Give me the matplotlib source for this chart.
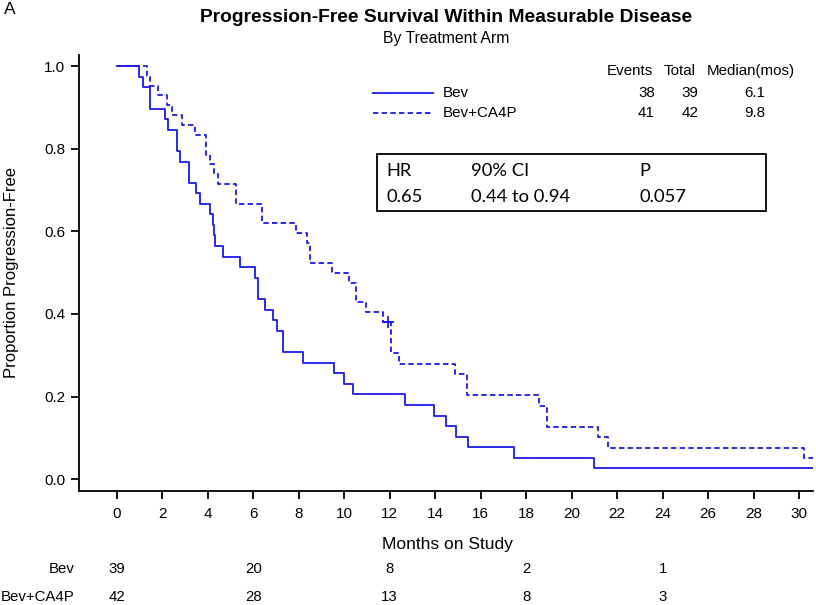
import matplotlib
matplotlib.use('Agg')
import matplotlib.pyplot as plt
import numpy as np

plt.rcParams['font.family'] = ['Liberation Sans', 'DejaVu Sans']

# Kaplan-Meier steps (time in months, proportion free)
bev_t = [0, 1.0, 1.15, 1.46, 2.1, 2.26, 2.67, 2.8, 3.19, 3.48, 3.66, 4.1, 4.22, 4.29, 4.33,
         4.66, 5.4, 6.09, 6.19, 6.53, 6.87, 7.05, 7.29, 8.2, 9.57, 9.97, 10.37, 12.68, 13.95,
         14.47, 14.93, 15.43, 17.46, 21.0, 30.8]
bev_s = [1.0, 0.974, 0.949, 0.897, 0.872, 0.846, 0.795, 0.769, 0.718, 0.692, 0.667, 0.641,
         0.615, 0.590, 0.564, 0.538, 0.513, 0.487, 0.436, 0.410, 0.385, 0.359, 0.308, 0.282,
         0.256, 0.231, 0.205, 0.179, 0.154, 0.128, 0.103, 0.077, 0.051, 0.026, 0.026]

cap_t = [0, 1.31, 1.45, 1.83, 2.23, 2.45, 2.89, 3.44, 3.92, 4.12, 4.29, 4.44, 5.25, 6.39, 7.86,
         8.35, 8.5, 9.48, 10.22, 10.52, 10.96, 11.7, 12.04, 12.43, 14.88, 15.38, 18.57, 18.9,
         21.15, 21.6, 30.2, 30.8]
cap_s = [1.0, 0.976, 0.952, 0.929, 0.905, 0.881, 0.857, 0.833, 0.786, 0.762, 0.738, 0.714,
         0.667, 0.619, 0.595, 0.571, 0.524, 0.500, 0.476, 0.429, 0.405, 0.381, 0.305, 0.279,
         0.254, 0.203, 0.178, 0.127, 0.102, 0.076, 0.051, 0.051]
cap_cens_t = [11.93]
cap_cens_s = [0.381]

arms = ['Bev', 'Bev+CA4P']
events = [38, 41]
totals = [39, 42]
medians = ['6.1', '9.8']

risk_times = [0, 6, 12, 18, 24]
risk_bev = [39, 20, 8, 2, 1]
risk_cap = [42, 28, 13, 8, 3]

xticks = np.arange(0, 31, 2)
yticks = [0.0, 0.2, 0.4, 0.6, 0.8, 1.0]

W, H = 816, 605
line_col = '#1a1ae6'


def px(x, y):
    # pixel position -> figure fraction
    return x / W, 1 - y / H


fig = plt.figure(figsize=(W / 100, H / 100), dpi=100)
fig.patch.set_facecolor('white')
ax = fig.add_axes([79 / W, 1 - 490.7 / H, (812.7 - 79) / W, (490.7 - 55) / H])

ax.step(bev_t, bev_s, where='post', color=line_col, lw=1.3)
ax.step(cap_t, cap_s, where='post', color=line_col, lw=1.3, linestyle=(0, (3, 1.8)))
ax.plot(cap_cens_t, cap_cens_s, '+', color=line_col, ms=9, mew=1.3)

ax.set_xlim(-1.66, 30.6)
ax.set_ylim(-0.028, 1.027)
ax.set_xticks(xticks)
ax.set_yticks(yticks)
ax.set_yticklabels([f'{v:.1f}' for v in yticks])
ax.tick_params(direction='out', length=6, width=1.3, labelsize=11, pad=4, color='black')
ax.tick_params(axis='x', pad=6)
for s in ['top', 'right']:
    ax.spines[s].set_visible(False)
for s in ['left', 'bottom']:
    ax.spines[s].set_linewidth(1.3)

# titles
fig.text(*px(4, 9), 'A', fontsize=12.5, va='center', ha='left')
fig.text(*px(446, 17), 'Progression-Free Survival Within Measurable Disease',
         fontsize=13.9, fontweight='bold', ha='center', va='center')
fig.text(*px(446, 38), 'By Treatment Arm', fontsize=11.3, ha='center', va='center')
fig.text(*px(12, 273), 'Proportion Progression-Free', fontsize=12, rotation=90,
         ha='center', va='center')
fig.text(*px(447, 545), 'Months on Study', fontsize=12.5, ha='center', va='center')

# legend with statistics
fs = 10.9
fig.text(*px(630, 71), 'Events', fontsize=fs, ha='center', va='center')
fig.text(*px(680, 71), 'Total', fontsize=fs, ha='center', va='center')
fig.text(*px(707, 71), 'Median(mos)', fontsize=fs, ha='left', va='center')
row_y = [92.7, 113.3]
styles = ['-', (0, (3, 1.8))]
for i in range(2):
    x0, y0 = px(373, row_y[i])
    x1, _ = px(433, row_y[i])
    fig.add_artist(plt.Line2D([x0, x1], [y0, y0], color=line_col, lw=1.3,
                              linestyle=styles[i], transform=fig.transFigure))
    fig.text(*px(443, row_y[i]), arms[i], fontsize=fs, ha='left', va='center')
    fig.text(*px(655, row_y[i]), str(events[i]), fontsize=fs, ha='right', va='center')
    fig.text(*px(698, row_y[i]), str(totals[i]), fontsize=fs, ha='right', va='center')
    fig.text(*px(765, row_y[i]), medians[i], fontsize=fs, ha='right', va='center')

# hazard ratio box
bx0, by0 = px(377, 211)
bx1, by1 = px(766, 154)
fig.add_artist(plt.Rectangle((bx0, by0), bx1 - bx0, by1 - by0, fill=False, lw=1.3,
                             edgecolor='black', transform=fig.transFigure))
box_font = ['Lato', 'DejaVu Sans']
hr_cols = [386.7, 471, 639]
hr_head = ['HR', '90% CI', 'P']
hr_vals = ['0.65', '0.44 to 0.94', '0.057']
for cx, h, v in zip(hr_cols, hr_head, hr_vals):
    fig.text(*px(cx, 171.5), h, fontsize=13.2, family=box_font, ha='left', va='center')
    fig.text(*px(cx, 196.5), v, fontsize=13.2, family=box_font, ha='left', va='center')

# numbers at risk
risk_font = ['Liberation Sans Narrow', 'Liberation Sans']
for lab, vals, yy in [('Bev', risk_bev, 569), ('Bev+CA4P', risk_cap, 597)]:
    fig.text(*px(75, yy), lab, fontsize=10.8, family=risk_font, ha='right', va='center')
    yf = px(0, yy)[1]
    for t, n in zip(risk_times, vals):
        xf = fig.transFigure.inverted().transform(ax.transData.transform((t, 0)))[0]
        fig.text(xf, yf, str(n), fontsize=10.8, family=risk_font, ha='center', va='center')

fig.savefig('out.png', dpi=100, facecolor='white')
